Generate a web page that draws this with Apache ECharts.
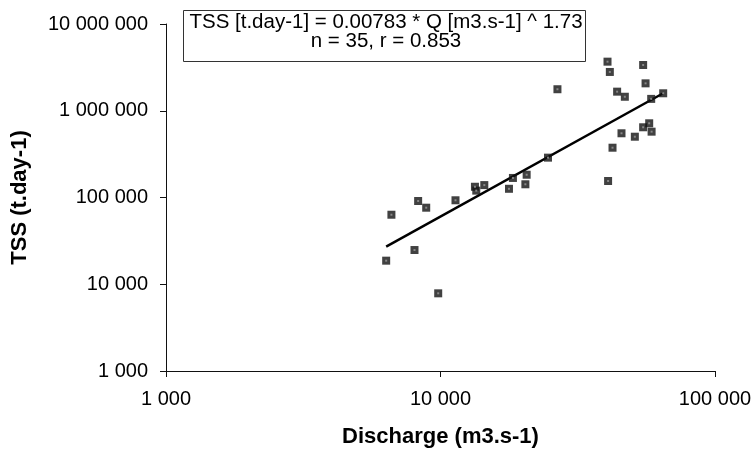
<!DOCTYPE html>
<html>
<head>
<meta charset="utf-8">
<title>TSS vs Discharge</title>
<script src="https://cdn.jsdelivr.net/npm/echarts@6/dist/echarts.min.js"></script>
<style>
  html, body { margin: 0; padding: 0; background: #fff; }
  #chart { width: 755px; height: 455px; }
</style>
</head>
<body>
<div id="chart"></div>
<script>
// discharge (m3.s-1) and TSS (t.day-1)
var discharge = [6625, 8290, 8870, 11340, 13350, 13500, 14440, 18360, 17760, 20600, 20380,
                 8040, 6340, 9810, 40590, 41390, 54730, 55850, 26670, 44000, 46940, 64750,
                 58550, 57580, 54730, 58750, 45640, 51050, 42330, 24640, 40790];
var tss = [63300, 91100, 76300, 92900, 133000, 120000, 139000, 168000, 126000, 183000, 142000,
           24800, 18700, 7860, 3680000, 2800000, 3370000, 2070000, 1770000, 1660000, 1450000, 1590000,
           1370000, 717000, 645000, 574000, 550000, 502000, 375000, 288000, 155000];

// ends of the fitted power line
var fitX = [6340, 64750];
var fitY = [27100, 1590000];

var fitText = ['TSS [t.day-1] = 0.00783 * Q [m3.s-1] ^ 1.73', 'n = 35, r = 0.853'];

var xRange = [1000, 100000];
var yRange = [1000, 10000000];

var FONT = '"Liberation Sans", Arial, sans-serif';

function spaced(v) {
    return String(Math.round(v)).replace(/\B(?=(\d{3})+(?!\d))/g, ' ');
}

var points = [];
for (var i = 0; i < discharge.length; i++) {
    points.push([discharge[i], tss[i]]);
}
var fitLine = [];
for (var j = 0; j < fitX.length; j++) {
    fitLine.push([fitX[j], fitY[j]]);
}

var myChart = echarts.init(document.getElementById('chart'));

var axisCommon = {
    type: 'log',
    logBase: 10,
    splitLine: { show: false },
    minorTick: { show: false },
    axisLine: { show: true, lineStyle: { color: '#111', width: 1 } },
    axisTick: { show: true, inside: false, length: 6, lineStyle: { color: '#111' } },
    axisLabel: {
        color: '#000',
        fontFamily: FONT,
        fontSize: 20,
        margin: 18,
        formatter: spaced
    },
    nameLocation: 'middle',
    nameTextStyle: {
        color: '#000',
        fontFamily: FONT,
        fontSize: 22,
        fontWeight: 'bold'
    }
};

var option = {
    backgroundColor: '#fff',
    animation: false,
    grid: { left: 166, right: 40, top: 24, bottom: 84 },
    xAxis: echarts.util.merge({
        min: xRange[0],
        max: xRange[1],
        name: 'Discharge (m3.s-1)',
        nameGap: 55
    }, axisCommon),
    yAxis: echarts.util.merge({
        min: yRange[0],
        max: yRange[1],
        name: 'TSS (t.day-1)',
        nameGap: 135
    }, axisCommon),
    graphic: [
        {
            type: 'rect',
            left: 183,
            top: 10,
            shape: { width: 402, height: 51 },
            style: { fill: '#fff', stroke: '#333', lineWidth: 1 },
            z: 10
        },
        {
            type: 'text',
            x: 386,
            y: 13,
            style: {
                text: fitText.join('\n'),
                fill: '#000',
                font: '20.5px ' + FONT,
                align: 'center',
                textAlign: 'center',
                lineHeight: 19
            },
            z: 11
        }
    ],
    series: [
        {
            name: 'fit',
            type: 'line',
            data: fitLine,
            symbol: 'none',
            lineStyle: { color: '#000', width: 2.5 },
            z: 2
        },
        {
            name: 'samples',
            type: 'scatter',
            data: points,
            symbol: 'rect',
            symbolSize: 8,
            itemStyle: { color: '#111' },
            z: 3
        },
        {
            name: 'samples-dot',
            type: 'scatter',
            data: points,
            symbol: 'rect',
            symbolSize: 2,
            itemStyle: { color: '#999' },
            silent: true,
            z: 4
        }
    ]
};

myChart.setOption(option);
</script>
</body>
</html>
